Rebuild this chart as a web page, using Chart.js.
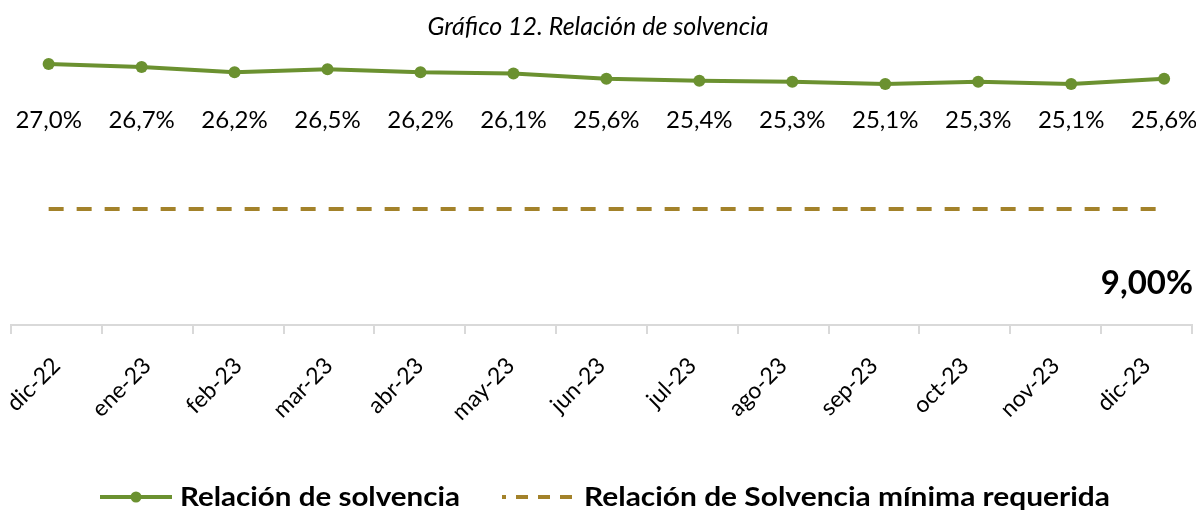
<!DOCTYPE html>
<html>
<head>
<meta charset="utf-8">
<script src="https://cdn.jsdelivr.net/npm/chart.js@4.4.1/dist/chart.umd.min.js"></script>
<style>
html, body { margin: 0; padding: 0; background: #fff; }
#wrap { width: 1196px; height: 515px; }
</style>
</head>
<body>
<div id="wrap"><canvas id="lineChart"></canvas></div>
<script>
var titulo = "Gráfico 12. Relación de solvencia";
var meses = ["dic-22", "ene-23", "feb-23", "mar-23", "abr-23", "may-23", "jun-23",
             "jul-23", "ago-23", "sep-23", "oct-23", "nov-23", "dic-23"];
var solvencia = [27.0, 26.7, 26.2, 26.5, 26.2, 26.1, 25.6, 25.4, 25.3, 25.1, 25.3, 25.1, 25.6];
var minimo = [9, 9, 9, 9, 9, 9, 9, 9, 9, 9, 9, 9, 9];
var nombreSerie1 = "Relación de solvencia";
var nombreSerie2 = "Relación de Solvencia mínima requerida";

var verde = "#6b9130";
var dorado = "#a3822a";
var fuente = "Lato, 'Noto Sans', sans-serif";

function pct(v, d) {
    return v.toFixed(d).replace(".", ",") + "%";
}

// texto ajustado a un ancho dado (la fuente original es mas estrecha)
function textoAncho(ctx, txt, x, y, ancho) {
    var w = ctx.measureText(txt).width;
    ctx.save();
    ctx.translate(x, y);
    ctx.scale(ancho / w, 1);
    ctx.fillText(txt, 0, 0);
    ctx.restore();
}

var etiquetas = {
    id: "etiquetas",
    afterDatasetsDraw: function (chart) {
        var ctx = chart.ctx;
        var area = chart.chartArea;
        ctx.save();
        // valores de la serie principal
        ctx.fillStyle = "#000";
        ctx.font = "24px " + fuente;
        ctx.textAlign = "center";
        ctx.textBaseline = "middle";
        var pts = chart.getDatasetMeta(0).data;
        pts.forEach(function (p, i) {
            ctx.fillText(pct(solvencia[i], 1), p.x, area.top + 70);
        });
        // etiqueta del minimo
        var pts2 = chart.getDatasetMeta(1).data;
        var last = pts2[pts2.length - 1];
        ctx.font = "bold 33px " + fuente;
        ctx.textAlign = "right";
        ctx.fillText(pct(minimo[minimo.length - 1], 2), chart.width - 3, last.y + 74);

        // titulo
        ctx.textAlign = "center";
        ctx.font = "italic 25px " + fuente;
        ctx.fillText(titulo, chart.width / 2, 27);

        // leyenda
        var ly = 497;
        ctx.lineWidth = 4;
        ctx.strokeStyle = verde;
        ctx.beginPath();
        ctx.moveTo(100, ly);
        ctx.lineTo(172, ly);
        ctx.stroke();
        ctx.fillStyle = verde;
        ctx.beginPath();
        ctx.arc(136, ly, 5.5, 0, Math.PI * 2);
        ctx.fill();
        ctx.fillStyle = "#000";
        ctx.font = "bold 27px " + fuente;
        ctx.textAlign = "left";
        textoAncho(ctx, nombreSerie1, 180, ly, 280);

        ctx.strokeStyle = dorado;
        ctx.setLineDash([12, 10]);
        ctx.lineDashOffset = 8;
        ctx.beginPath();
        ctx.moveTo(502, ly);
        ctx.lineTo(574, ly);
        ctx.stroke();
        ctx.setLineDash([]);
        textoAncho(ctx, nombreSerie2, 584, ly, 526);
        ctx.restore();
    }
};

var puntos1 = solvencia.map(function (v, i) { return { x: i, y: v }; });
var puntos2 = minimo.map(function (v, i) { return { x: i, y: v }; });

var ctx2 = document.getElementById("lineChart").getContext("2d");
new Chart(ctx2, {
    type: "line",
    data: {
        labels: meses,
        datasets: [
            {
                label: nombreSerie1,
                data: puntos1,
                xAxisID: "xl",
                yAxisID: "y",
                borderColor: verde,
                backgroundColor: verde,
                borderWidth: 4,
                pointRadius: 6,
                pointBorderWidth: 0,
                pointBackgroundColor: verde,
                tension: 0
            },
            {
                label: nombreSerie2,
                data: puntos2,
                xAxisID: "xl",
                yAxisID: "y2",
                borderColor: dorado,
                borderWidth: 4,
                borderDash: [15, 13],
                pointRadius: 0,
                tension: 0
            }
        ]
    },
    plugins: [etiquetas],
    options: {
        responsive: true,
        maintainAspectRatio: false,
        animation: false,
        events: [],
        layout: {
            autoPadding: false,
            padding: { left: 11, right: 4, top: 50, bottom: 65 }
        },
        plugins: {
            legend: { display: false },
            title: { display: false },
            tooltip: { enabled: false }
        },
        scales: {
            xc: {
                type: "category",
                position: "bottom",
                offset: true,
                grid: {
                    offset: true,
                    drawOnChartArea: false,
                    tickLength: 9,
                    color: "#d9d9d9",
                    lineWidth: 2
                },
                border: { color: "#d9d9d9", width: 2 },
                ticks: {
                    color: "#000",
                    font: { size: 23, family: fuente },
                    maxRotation: 45,
                    minRotation: 45,
                    autoSkip: false,
                    padding: 18
                },
                afterFit: function (s) {
                    s.height = 125;
                    s.paddingLeft = 0;
                    s.paddingRight = 0;
                }
            },
            xl: {
                type: "linear",
                display: false,
                min: -0.405,
                max: 12.3
            },
            y: {
                display: false,
                min: 2.14,
                max: 28.33
            },
            y2: {
                display: false,
                min: 0,
                max: 21.34
            }
        }
    }
});
</script>
</body>
</html>
